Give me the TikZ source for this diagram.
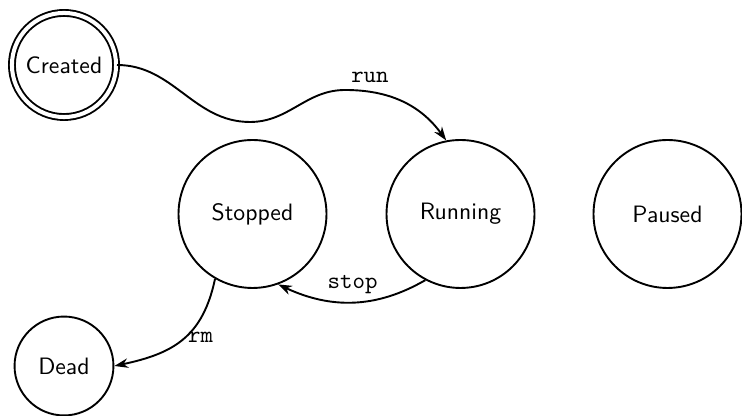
\documentclass[tikz,border=0pt]{standalone}
\usetikzlibrary{arrows.meta}
\begin{document}
\begin{tikzpicture}[x=0.4217pt,y=-0.4217pt,
  state/.style={circle,draw,line width=0.8pt,font=\sffamily,inner sep=0pt},
  bigstate/.style={state,minimum size=62.4pt},
  smallstate/.style={state,minimum size=41.7pt},
  startstate/.style={state,minimum size=43.9pt,double,double distance=1.7pt},
  trans/.style={line width=0.8pt,-{Stealth[length=5.8pt,width=4pt]}},
  lbl/.style={font=\ttfamily}]
\useasboundingbox (0,0) rectangle (742,416);

% states
\node[startstate] (created) at (64,65)    {Created};
\node[bigstate]   (stopped) at (252.5,214) {Stopped};
\node[bigstate]   (running) at (460.5,214) {Running};
\node[bigstate]   (paused)  at (667.5,214) {Paused};
\node[smallstate] (dead)    at (64,366)   {Dead};

% waypoints of the run transition
\coordinate (dip)   at (250,122);
\coordinate (crest) at (345,90);

% transitions
\draw[trans] (created.east) to[out=0,in=180] (dip)
  to[out=0,in=180] (crest)
  to[out=0,in=126] node[lbl,pos=0.2,above] {run} (running.101);
\draw[trans] (running.242) to[out=210,in=335]
  node[lbl,pos=0.5,above] {stop} (stopped.290);
\draw[trans] (stopped.240) to[out=258,in=12,looseness=1.15]
  node[lbl,pos=0.47,anchor=west,inner sep=1pt] {rm} (dead.east);
\end{tikzpicture}
\end{document}
